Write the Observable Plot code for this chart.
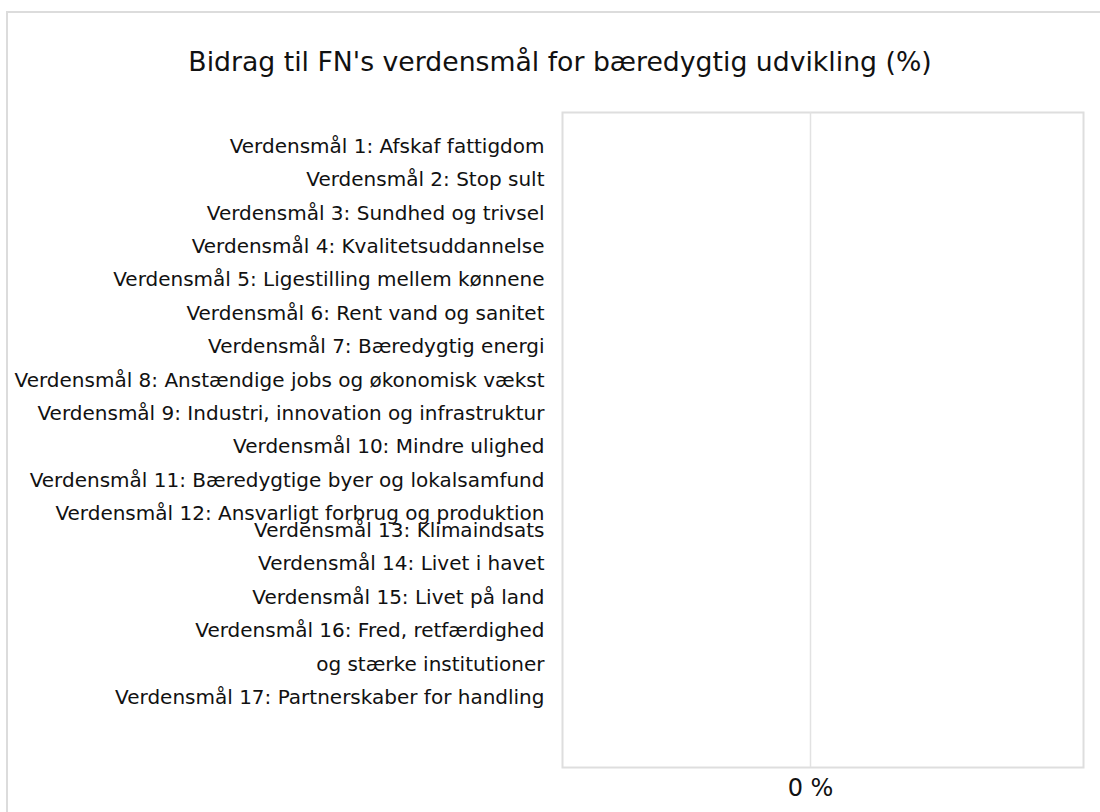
<!DOCTYPE html>
<html>
<head>
<meta charset="utf-8">
<script src="https://cdn.jsdelivr.net/npm/d3@7"></script>
<script src="https://cdn.jsdelivr.net/npm/@observablehq/plot@0.6"></script>
<style>
  html, body { margin: 0; padding: 0; background: #fff; width: 1100px; height: 812px; overflow: hidden; }
  body { position: relative; font-family: "DejaVu Sans", sans-serif; }
  #box { position: absolute; left: 6px; top: 11px; width: 1200px; height: 900px; border: 2px solid #dcdcdc; box-sizing: border-box; }
  #title { position: absolute; left: 0; top: 44px; width: 1120px; text-align: center; font-size: 26.7px; line-height: 36px; color: #111; white-space: nowrap; }
  #chart { position: absolute; left: 0; top: 0; }
</style>
</head>
<body>
<div id="box"></div>
<div id="title">Bidrag til FN's verdensmål for bæredygtig udvikling (%)</div>
<div id="chart"></div>
<script>
// Categories (SDGs) and their values (all zero in the reference)
const goals = [
  "Verdensmål 1: Afskaf fattigdom",
  "Verdensmål 2: Stop sult",
  "Verdensmål 3: Sundhed og trivsel",
  "Verdensmål 4: Kvalitetsuddannelse",
  "Verdensmål 5: Ligestilling mellem kønnene",
  "Verdensmål 6: Rent vand og sanitet",
  "Verdensmål 7: Bæredygtig energi",
  "Verdensmål 8: Anstændige jobs og økonomisk vækst",
  "Verdensmål 9: Industri, innovation og infrastruktur",
  "Verdensmål 10: Mindre ulighed",
  "Verdensmål 11: Bæredygtige byer og lokalsamfund",
  "Verdensmål 12: Ansvarligt forbrug og produktion",
  "Verdensmål 13: Klimaindsats",
  "Verdensmål 14: Livet i havet",
  "Verdensmål 15: Livet på land",
  "Verdensmål 16: Fred, retfærdighed og stærke institutioner",
  "Verdensmål 17: Partnerskaber for handling"
];
const values = [0, 0, 0, 0, 0, 0, 0, 0, 0, 0, 0, 0, 0, 0, 0, 0, 0];

// Tick label lines as rendered in the reference (goal 16 wraps onto two lines)
const tickLines = [
  "Verdensmål 1: Afskaf fattigdom",
  "Verdensmål 2: Stop sult",
  "Verdensmål 3: Sundhed og trivsel",
  "Verdensmål 4: Kvalitetsuddannelse",
  "Verdensmål 5: Ligestilling mellem kønnene",
  "Verdensmål 6: Rent vand og sanitet",
  "Verdensmål 7: Bæredygtig energi",
  "Verdensmål 8: Anstændige jobs og økonomisk vækst",
  "Verdensmål 9: Industri, innovation og infrastruktur",
  "Verdensmål 10: Mindre ulighed",
  "Verdensmål 11: Bæredygtige byer og lokalsamfund",
  "Verdensmål 12: Ansvarligt forbrug og produktion",
  "Verdensmål 13: Klimaindsats",
  "Verdensmål 14: Livet i havet",
  "Verdensmål 15: Livet på land",
  "Verdensmål 16: Fred, retfærdighed",
  "og stærke institutioner",
  "Verdensmål 17: Partnerskaber for handling"
];
// Row slot of each tick label line (in row units)
const tickSlots = [0, 1, 2, 3, 4, 5, 6, 7, 8, 9, 10, 11, 11.5, 12.5, 13.5, 14.5, 15.5, 16.5];
const xTicks = [0];

const bars = goals.map((g, i) => ({goal: g, value: values[i], row: i}));
const labels = tickLines.map((t, i) => ({text: t, slot: tickSlots[i]}));

const chart = Plot.plot({
  width: 1100,
  height: 812,
  marginTop: 112,
  marginBottom: 45,
  marginLeft: 562,
  marginRight: 17,
  style: {fontFamily: "DejaVu Sans, sans-serif", background: "transparent"},
  x: {type: "linear", domain: [-1, 1], range: [537, 1083]},
  y: {type: "linear", domain: [0, 16.5], range: [146, 697], axis: null},
  marks: [
    Plot.frame({stroke: "#dedede", strokeWidth: 2}),
    Plot.ruleX(xTicks, {x: d => d, stroke: "#e2e2e2", strokeWidth: 1.5}),
    Plot.rectX(bars, {x1: 0, x2: "value", y1: d => d.row - 0.35, y2: d => d.row + 0.35, fill: "#4e79a7"}),
    Plot.axisX(xTicks, {tickSize: 0, tickPadding: 11, fontSize: 24, fill: "#111", tickFormat: d => `${d} %`, label: null}),
    Plot.text(labels, {
      text: "text", y: "slot", frameAnchor: "left", dx: -18,
      textAnchor: "end", fontSize: 20, fill: "#111"
    })
  ]
});
document.getElementById("chart").appendChild(chart);
</script>
</body>
</html>
